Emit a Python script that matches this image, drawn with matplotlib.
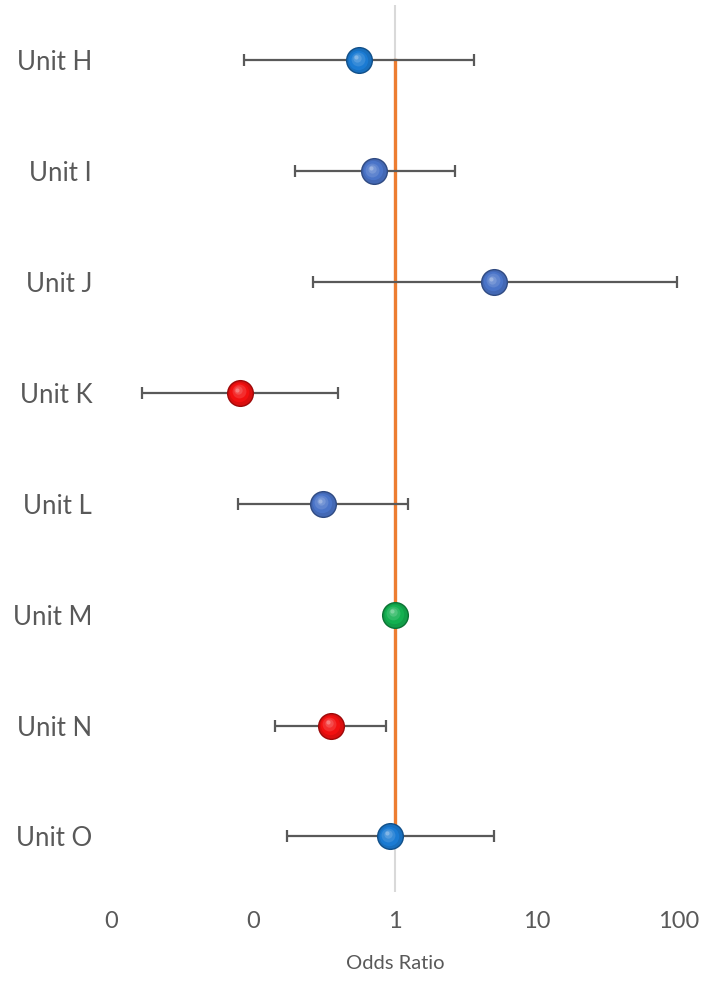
import matplotlib
matplotlib.use("Agg")
import matplotlib.pyplot as plt
import matplotlib.transforms as mtransforms
from matplotlib.colors import to_rgb
import numpy as np

plt.rcParams['font.family'] = ['Lato', 'DejaVu Sans']

units = ["Unit H", "Unit I", "Unit J", "Unit K", "Unit L", "Unit M", "Unit N", "Unit O"]
odds = [0.56, 0.71, 5.0, 0.081, 0.31, 1.0, 0.354, 0.92]
lower = [0.087, 0.198, 0.265, 0.0165, 0.078, 1.0, 0.143, 0.174]
upper = [3.6, 2.65, 97.0, 0.397, 1.23, 1.0, 0.865, 4.98]
colors = ["#1b7bd3", "#4a74c8", "#4a74c8", "#f21010", "#4a74c8", "#13b050", "#f21010", "#1b7bd3"]
xticks = [0.01, 0.1, 1, 10, 100]
xtick_labels = ["0", "0", "1", "10", "100"]

fig = plt.figure(figsize=(7.02, 9.91), dpi=100)
ax = fig.add_axes([0.158, 0.100, 0.809, 0.895])

ypos = np.arange(1, len(units) + 1)

# reference line at 1
ax.axvline(1, color="#d9d9d9", lw=1.5, zorder=1)
ax.plot([1, 1], [ypos[0], ypos[-1]], color="#ed7d31", lw=2.4, zorder=2)

# error bars
for y, o, lo, hi in zip(ypos, odds, lower, upper):
    if hi > lo:
        ax.errorbar(o, y, xerr=[[o - lo], [hi - o]], fmt="none", ecolor="#595959",
                    elinewidth=1.6, capsize=4.5, capthick=1.6, zorder=3)

# shaded "sphere" markers
def shade(c, f):
    r, g, b = to_rgb(c)
    if f >= 0:
        return (r + (1 - r) * f, g + (1 - g) * f, b + (1 - b) * f)
    return (r * (1 + f), g * (1 + f), b * (1 + f))

for y, o, c in zip(ypos, odds, colors):
    ax.plot(o, y, "o", ms=19.5, color=shade(c, -0.35), mec="none", zorder=4)
    for i, (s, f) in enumerate(zip([17.5, 14, 10, 6, 3], [-0.1, 0.0, 0.12, 0.25, 0.45])):
        off = mtransforms.offset_copy(ax.transData, fig=fig, x=-0.5 * i, y=0.6 * i, units="points")
        ax.plot(o, y, "o", ms=s, color=shade(c, f), mec="none", zorder=5 + i, transform=off)

ax.set_xscale("log")
ax.set_xlim(0.01, 100)
ax.set_ylim(8.5, 0.5)
ax.set_xticks(xticks)
ax.set_xticklabels(xtick_labels)
ax.minorticks_off()
ax.set_yticks(ypos)
ax.set_yticklabels(units)
ax.tick_params(axis="both", length=0, labelcolor="#595959")
ax.tick_params(axis="y", pad=13.5, labelsize=18.5)
ax.tick_params(axis="x", pad=14, labelsize=17)
ax.set_xlabel("Odds Ratio", fontsize=14.5, color="#595959", labelpad=16)
for sp in ax.spines.values():
    sp.set_visible(False)

fig.savefig("out.png", dpi=100)
